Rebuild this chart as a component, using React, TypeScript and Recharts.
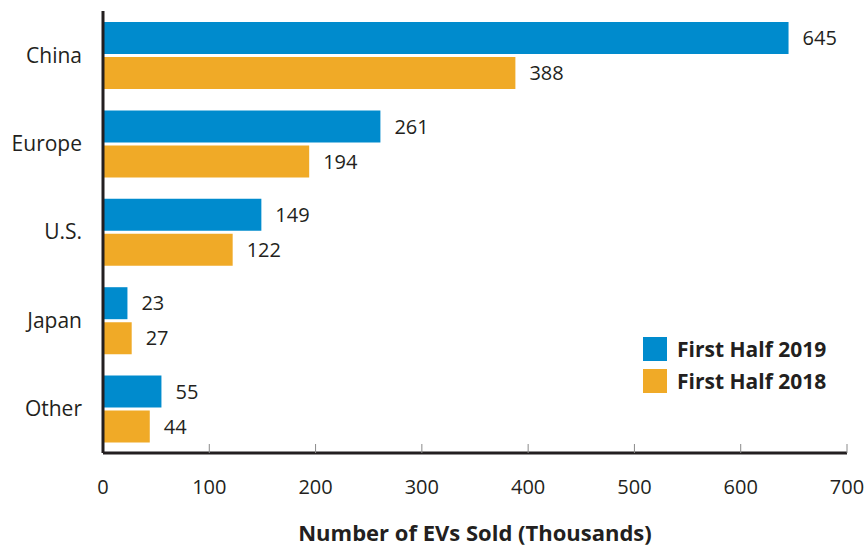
import { BarChart, Bar, XAxis, YAxis, Legend, LabelList } from "recharts";

const regions = ["China", "Europe", "U.S.", "Japan", "Other"];
const firstHalf2019 = [645, 261, 149, 23, 55];
const firstHalf2018 = [388, 194, 122, 27, 44];
const xTicks = [0, 100, 200, 300, 400, 500, 600, 700];

const data = regions.map((region, i) => ({
  region,
  h2019: firstHalf2019[i],
  h2018: firstHalf2018[i],
}));

const INK = "#231f20";
const BLUE = "#008bcd";
const ORANGE = "#f0aa27";
const FONT = "'Open Sans', Lato, sans-serif";

const XTick = (props: any) => {
  const { x, y, payload } = props;
  return (
    <g>
      {payload.value !== 0 && (
        <line x1={x} x2={x} y1={y - 9} y2={y} stroke="#8a8a8a" strokeWidth={1} />
      )}
      <text x={x} y={y + 41} textAnchor="middle" fontSize={20} fill={INK} fontFamily={FONT}>
        {payload.value}
      </text>
    </g>
  );
};

const LegendBox = () => (
  <div style={{ fontFamily: FONT, fontWeight: 700, fontSize: 21, color: INK }}>
    {[
      { name: "First Half 2019", color: BLUE },
      { name: "First Half 2018", color: ORANGE },
    ].map((item) => (
      <div key={item.name} style={{ display: "flex", alignItems: "center", height: 32 }}>
        <span style={{ width: 24, height: 24, background: item.color, marginRight: 10 }} />
        <span>{item.name}</span>
      </div>
    ))}
  </div>
);

export default function App() {
  return (
    <div style={{ position: "absolute", left: 0, top: 0, width: 866, height: 546, background: "#fff" }}>
      <BarChart
        width={866}
        height={546}
        data={data}
        layout="vertical"
        margin={{ top: 11, right: 19, bottom: 0, left: 0 }}
        barSize={32}
        barGap={3}
      >
        <XAxis
          type="number"
          domain={[0, 700]}
          ticks={xTicks}
          height={93}
          tickSize={0}
          tickMargin={0}
          tickLine={false}
          tick={<XTick />}
          axisLine={{ stroke: INK, strokeWidth: 3 }}
          label={{
            value: "Number of EVs Sold (Thousands)",
            position: "insideBottom",
            offset: 5,
            fontSize: 22,
            fontWeight: 700,
            fill: INK,
            fontFamily: FONT,
          }}
        />
        <YAxis
          type="category"
          dataKey="region"
          width={103}
          tickSize={0}
          tickMargin={21}
          tickLine={false}
          axisLine={{ stroke: INK, strokeWidth: 3 }}
          tick={{ fontSize: 21, fill: INK, fontFamily: FONT }}
        />
        <Legend
          layout="horizontal"
          verticalAlign="middle"
          align="center"
          content={<LegendBox />}
          wrapperStyle={{ position: "absolute", left: 643, top: 333, width: 220 }}
        />
        <Bar dataKey="h2019" name="First Half 2019" fill={BLUE} isAnimationActive={false}>
          <LabelList dataKey="h2019" position="right" offset={14} fontSize={20} fill={INK} fontFamily={FONT} />
        </Bar>
        <Bar dataKey="h2018" name="First Half 2018" fill={ORANGE} isAnimationActive={false}>
          <LabelList dataKey="h2018" position="right" offset={14} fontSize={20} fill={INK} fontFamily={FONT} />
        </Bar>
      </BarChart>
    </div>
  );
}
